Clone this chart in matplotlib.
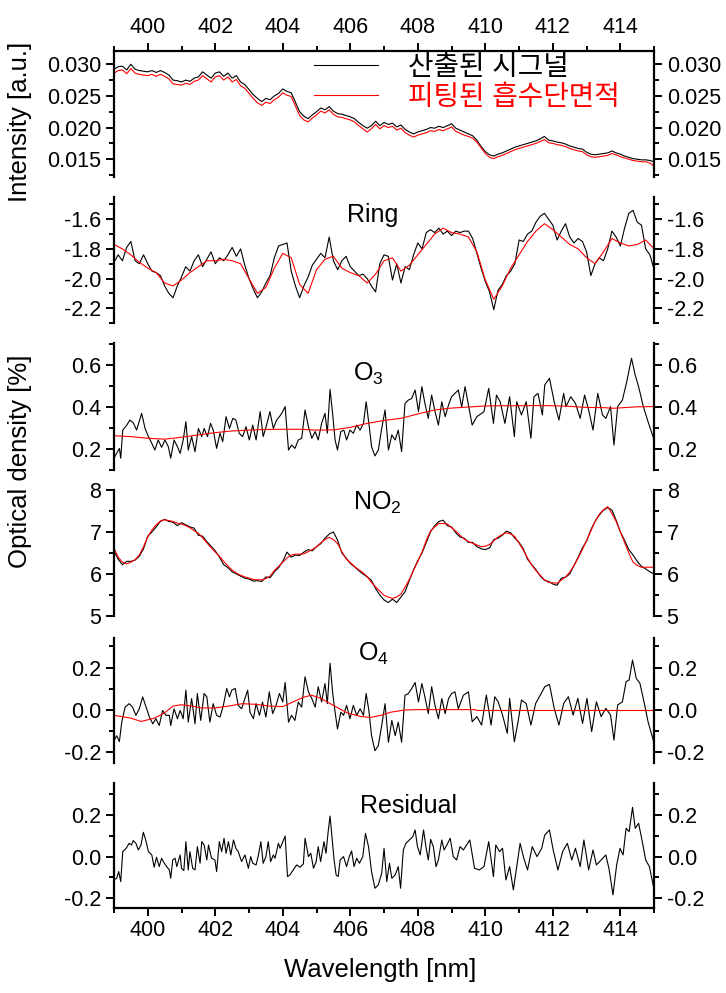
import numpy as np
import matplotlib
matplotlib.use("Agg")
import matplotlib.pyplot as plt
from matplotlib.ticker import MultipleLocator, FormatStrFormatter

plt.rcParams['font.family'] = ['Liberation Sans', 'Noto Sans CJK KR', 'DejaVu Sans']
plt.rcParams['mathtext.fontset'] = 'custom'
plt.rcParams['mathtext.rm'] = 'Liberation Sans'

# wavelength grid used for the densely sampled series (0.125 nm steps)
wl = np.linspace(399, 415, 129)

# top panel: measured (black) and fitted (red) intensity
int_meas = [0.0292,0.0296,0.0297,0.0291,0.0300,0.0292,0.0290,0.0289,0.0288,0.0290,
            0.0287,0.0290,0.0287,0.0283,0.0275,0.0274,0.0272,0.0275,0.0273,0.0278,
            0.0280,0.0288,0.0283,0.0278,0.0286,0.0288,0.0281,0.0286,0.0278,0.0282,
            0.0272,0.0268,0.0260,0.0252,0.0246,0.0241,0.0246,0.0244,0.0250,0.0254,
            0.0261,0.0257,0.0255,0.0240,0.0225,0.0218,0.0214,0.0220,0.0225,0.0231,
            0.0228,0.0233,0.0226,0.0222,0.0221,0.0219,0.0217,0.0214,0.0208,0.0203,
            0.0199,0.0203,0.0210,0.0203,0.0208,0.0205,0.0207,0.0201,0.0204,0.0197,
            0.0193,0.0190,0.0193,0.0195,0.0197,0.0200,0.0199,0.0202,0.0200,0.0203,
            0.0206,0.0199,0.0196,0.0193,0.0190,0.0187,0.0180,0.0170,0.0162,0.0157,
            0.0155,0.0158,0.0160,0.0163,0.0166,0.0169,0.0171,0.0173,0.0175,0.0177,
            0.0179,0.0182,0.0186,0.0180,0.0179,0.0177,0.0176,0.0174,0.0171,0.0169,
            0.0167,0.0166,0.0161,0.0158,0.0157,0.0158,0.0159,0.0160,0.0163,0.0160,
            0.0158,0.0155,0.0153,0.0151,0.0150,0.0149,0.0149,0.0148,0.0146]
int_fit = [0.0286,0.0290,0.0291,0.0285,0.0293,0.0286,0.0284,0.0283,0.0282,0.0284,
           0.0281,0.0284,0.0281,0.0277,0.0269,0.0268,0.0267,0.0270,0.0268,0.0273,
           0.0275,0.0282,0.0277,0.0272,0.0280,0.0282,0.0275,0.0280,0.0272,0.0276,
           0.0266,0.0262,0.0254,0.0246,0.0239,0.0235,0.0240,0.0238,0.0244,0.0248,
           0.0255,0.0251,0.0249,0.0234,0.0219,0.0212,0.0209,0.0215,0.0220,0.0226,
           0.0223,0.0228,0.0221,0.0217,0.0216,0.0214,0.0212,0.0209,0.0203,0.0198,
           0.0193,0.0198,0.0205,0.0198,0.0203,0.0200,0.0202,0.0196,0.0199,0.0192,
           0.0188,0.0185,0.0188,0.0190,0.0192,0.0195,0.0194,0.0197,0.0195,0.0198,
           0.0201,0.0194,0.0191,0.0188,0.0186,0.0183,0.0177,0.0168,0.0159,0.0153,
           0.0151,0.0154,0.0156,0.0159,0.0162,0.0165,0.0167,0.0169,0.0171,0.0173,
           0.0175,0.0178,0.0181,0.0176,0.0175,0.0173,0.0172,0.0170,0.0167,0.0165,
           0.0163,0.0162,0.0157,0.0154,0.0153,0.0154,0.0155,0.0156,0.0159,0.0157,
           0.0154,0.0152,0.0150,0.0148,0.0147,0.0146,0.0146,0.0144,0.0139]

# Ring
ring_meas = [-1.89,-1.84,-1.88,-1.79,-1.75,-1.88,-1.90,-1.84,-1.90,-1.95,
             -1.96,-1.98,-2.05,-2.10,-2.13,-2.05,-1.99,-1.92,-1.95,-1.88,
             -1.84,-1.92,-1.87,-1.82,-1.90,-1.86,-1.88,-1.84,-1.79,-1.85,
             -1.80,-1.91,-2.00,-2.07,-2.13,-2.09,-2.03,-1.98,-1.86,-1.78,
             -1.77,-1.76,-1.95,-2.05,-2.13,-2.05,-1.99,-1.91,-1.87,-1.83,
             -1.86,-1.72,-1.88,-1.94,-1.88,-1.85,-1.92,-1.95,-1.98,-1.97,
             -2.00,-2.05,-2.09,-1.90,-1.84,-1.85,-2.01,-1.90,-2.03,-1.92,
             -1.94,-1.84,-1.76,-1.80,-1.69,-1.67,-1.69,-1.66,-1.70,-1.68,
             -1.71,-1.68,-1.69,-1.68,-1.68,-1.73,-1.83,-1.93,-2.02,-2.09,
             -2.21,-2.08,-2.04,-1.98,-1.95,-1.90,-1.74,-1.75,-1.70,-1.68,
             -1.62,-1.58,-1.56,-1.60,-1.64,-1.74,-1.68,-1.63,-1.72,-1.76,
             -1.73,-1.75,-1.82,-1.98,-1.90,-1.86,-1.88,-1.80,-1.68,-1.72,
             -1.78,-1.66,-1.56,-1.54,-1.62,-1.64,-1.80,-1.84,-1.94]
ring_fit_wl = np.linspace(399, 415, 65)
ring_fit = [-1.77,-1.80,-1.84,-1.89,-1.93,-1.96,-2.03,-2.05,-2.01,-1.96,
            -1.92,-1.88,-1.88,-1.87,-1.88,-1.90,-2.00,-2.10,-2.06,-1.93,
            -1.83,-1.86,-2.04,-2.10,-1.94,-1.87,-1.85,-1.93,-1.96,-1.98,
            -2.03,-1.97,-1.88,-1.86,-1.95,-1.91,-1.84,-1.77,-1.70,-1.66,
            -1.69,-1.70,-1.72,-1.82,-2.01,-2.14,-2.05,-1.93,-1.84,-1.75,
            -1.68,-1.63,-1.67,-1.72,-1.77,-1.80,-1.86,-1.90,-1.82,-1.73,
            -1.76,-1.78,-1.77,-1.74,-1.80]

# O3 (wavelength, value)
o3_points = [(399.00,0.156),(399.08,0.179),(399.16,0.203),(399.20,0.156),(399.26,0.290),
             (399.38,0.314),(399.47,0.338),(399.57,0.325),(399.67,0.290),(399.82,0.370),
             (399.92,0.298),(400.02,0.259),(400.12,0.227),(400.21,0.195),(400.31,0.243),
             (400.41,0.208),(400.51,0.243),(400.61,0.211),(400.68,0.156),(400.78,0.243),
             (400.88,0.211),(400.96,0.179),(401.05,0.243),(401.13,0.330),(401.20,0.195),
             (401.30,0.259),(401.40,0.187),(401.50,0.298),(401.60,0.259),(401.67,0.298),
             (401.77,0.259),(401.86,0.322),(401.94,0.290),(402.04,0.203),(402.14,0.275),
             (402.22,0.235),(402.32,0.354),(402.42,0.298),(402.52,0.346),(402.61,0.338),
             (402.71,0.275),(402.81,0.259),(402.91,0.306),(403.01,0.243),(403.11,0.314),
             (403.21,0.243),(403.33,0.378),(403.42,0.259),(403.52,0.314),(403.62,0.378),
             (403.72,0.298),(403.82,0.338),(403.90,0.354),(403.97,0.370),(404.07,0.402),
             (404.17,0.195),(404.26,0.219),(404.36,0.203),(404.46,0.243),(404.56,0.251),
             (404.66,0.386),(404.76,0.306),(404.86,0.251),(404.96,0.283),(405.05,0.243),
             (405.15,0.322),(405.25,0.370),(405.32,0.275),(405.40,0.484),(405.48,0.362),
             (405.55,0.243),(405.62,0.195),(405.72,0.283),(405.81,0.290),(405.89,0.243),
             (405.99,0.290),(406.09,0.275),(406.19,0.314),(406.29,0.290),(406.39,0.322),
             (406.47,0.425),(406.55,0.322),(406.63,0.211),(406.73,0.167),(406.83,0.195),
             (406.93,0.298),(407.03,0.386),(407.13,0.195),(407.23,0.267),(407.33,0.243),
             (407.42,0.290),(407.52,0.187),(407.62,0.417),(407.72,0.433),(407.82,0.441),
             (407.92,0.481),(408.02,0.378),(408.12,0.497),(408.21,0.417),(408.31,0.346),
             (408.41,0.457),(408.51,0.378),(408.61,0.314),(408.71,0.425),(408.81,0.354),
             (408.91,0.410),(409.00,0.449),(409.10,0.465),(409.20,0.481),(409.30,0.400),
             (409.40,0.497),(409.61,0.314),(409.75,0.354),(409.96,0.378),(410.10,0.489),
             (410.24,0.322),(410.33,0.457),(410.44,0.425),(410.58,0.322),(410.72,0.449),
             (410.86,0.259),(410.93,0.425),(411.07,0.362),(411.21,0.425),(411.35,0.251),
             (411.44,0.449),(411.56,0.465),(411.69,0.362),(411.76,0.505),(411.90,0.537),
             (412.04,0.425),(412.18,0.338),(412.32,0.465),(412.39,0.402),(412.53,0.449),
             (412.67,0.417),(412.81,0.346),(412.94,0.457),(413.06,0.386),(413.19,0.290),
             (413.33,0.465),(413.47,0.362),(413.57,0.346),(413.71,0.402),(413.81,0.219),
             (413.92,0.402),(414.06,0.433),(414.19,0.521),(414.33,0.632),(414.44,0.552),
             (414.54,0.497),(414.68,0.402),(414.82,0.330),(415.00,0.243)]
o3_fit_wl = [399.0,399.5,400.0,400.5,401.0,401.5,402.0,402.5,403.0,403.5,404.0,404.5,
             405.0,405.5,406.0,406.5,407.0,407.5,408.0,408.5,409.0,409.5,410.0,410.5,
             411.0,411.5,412.0,412.5,413.0,413.5,413.8,414.0,414.5,415.0]
o3_fit = [0.263,0.259,0.251,0.247,0.256,0.267,0.278,0.286,0.290,0.293,0.294,0.294,
          0.290,0.291,0.303,0.322,0.336,0.346,0.367,0.386,0.395,0.400,0.405,0.406,
          0.406,0.407,0.406,0.403,0.398,0.397,0.394,0.396,0.401,0.402]

# NO2
no2_meas = [6.55,6.35,6.22,6.30,6.30,6.33,6.42,6.60,6.90,7.00,
            7.12,7.25,7.30,7.25,7.23,7.15,7.22,7.17,7.12,7.09,
            6.92,6.90,6.77,6.66,6.55,6.40,6.22,6.15,6.05,6.00,
            5.95,5.90,5.88,5.83,5.84,5.82,5.93,5.91,6.05,6.15,
            6.30,6.52,6.40,6.45,6.44,6.52,6.58,6.55,6.65,6.72,
            6.85,6.95,7.00,6.80,6.50,6.38,6.25,6.17,6.08,6.00,
            5.93,5.85,5.65,5.50,5.38,5.32,5.40,5.32,5.45,5.58,
            5.85,6.10,6.32,6.50,6.75,7.00,7.15,7.25,7.28,7.15,
            7.12,6.98,6.88,6.85,6.75,6.75,6.65,6.60,6.58,6.62,
            6.82,6.85,6.92,7.02,6.98,6.85,6.75,6.60,6.35,6.22,
            6.10,5.95,5.85,5.82,5.76,5.73,5.90,5.92,6.00,6.20,
            6.40,6.62,6.78,7.05,7.25,7.40,7.52,7.58,7.52,7.28,
            7.00,6.80,6.58,6.45,6.30,6.18,6.12,6.05,6.00]
no2_fit = [6.61,6.40,6.28,6.24,6.28,6.34,6.45,6.65,6.88,7.05,
           7.17,7.26,7.29,7.27,7.25,7.21,7.19,7.15,7.10,7.03,
           6.97,6.86,6.74,6.63,6.52,6.42,6.30,6.19,6.09,6.02,
           5.97,5.93,5.90,5.87,5.86,5.86,5.89,5.95,6.08,6.18,
           6.28,6.38,6.45,6.47,6.47,6.48,6.53,6.58,6.65,6.74,
           6.82,6.87,6.82,6.72,6.53,6.36,6.27,6.18,6.10,6.03,
           5.94,5.80,5.69,5.59,5.49,5.45,5.42,5.45,5.52,5.69,
           5.87,6.09,6.30,6.52,6.80,7.02,7.12,7.20,7.20,7.19,
           7.10,7.02,6.92,6.83,6.77,6.73,6.69,6.65,6.66,6.70,
           6.79,6.88,6.94,6.98,6.95,6.89,6.73,6.57,6.38,6.21,
           6.08,5.97,5.86,5.80,5.79,5.78,5.85,5.93,6.04,6.20,
           6.38,6.58,6.80,7.02,7.25,7.42,7.53,7.60,7.44,7.25,
           7.00,6.75,6.50,6.28,6.20,6.16,6.16,6.16,6.16]

# O4
o4_points = [(399.00,-0.144),(399.08,-0.121),(399.16,-0.149),(399.23,-0.057),(399.33,0.014),
             (399.45,0.030),(399.55,0.014),(399.65,-0.025),(399.75,0.006),(399.85,0.062),
             (399.95,0.014),(400.05,-0.033),(400.15,-0.065),(400.24,-0.041),(400.34,-0.073),
             (400.44,-0.002),(400.54,-0.025),(400.64,-0.025),(400.68,-0.073),(400.78,0.006),
             (400.88,-0.041),(400.96,-0.002),(401.05,-0.041),(401.13,0.094),(401.20,-0.057),
             (401.30,0.054),(401.40,-0.065),(401.47,0.078),(401.57,-0.049),(401.67,0.078),
             (401.75,0.062),(401.84,-0.057),(401.94,0.030),(402.04,-0.025),(402.14,-0.033),
             (402.24,0.022),(402.34,0.102),(402.42,0.062),(402.49,0.094),(402.59,0.102),
             (402.68,0.022),(402.78,0.006),(402.88,0.054),(402.96,0.094),(403.03,-0.010),
             (403.13,-0.041),(403.21,0.030),(403.31,-0.025),(403.40,0.038),(403.50,-0.033),
             (403.60,0.086),(403.70,-0.017),(403.80,0.022),(403.90,0.078),(404.00,0.038),
             (404.07,0.130),(404.17,-0.057),(404.26,-0.025),(404.36,-0.049),(404.46,0.038),
             (404.56,0.014),(404.66,0.157),(404.76,0.086),(404.86,0.054),(404.96,0.014),
             (405.05,0.110),(405.15,0.038),(405.25,0.125),(405.32,0.030),(405.40,0.221),
             (405.48,0.078),(405.55,-0.010),(405.62,-0.089),(405.72,-0.010),(405.80,-0.025),
             (405.89,0.022),(405.99,-0.041),(406.09,0.022),(406.19,-0.025),(406.29,0.006),
             (406.39,-0.025),(406.47,0.078),(406.55,-0.002),(406.63,-0.121),(406.73,-0.192),
             (406.83,-0.168),(406.93,-0.073),(407.03,0.030),(407.13,-0.152),(407.23,-0.049),
             (407.33,-0.121),(407.42,-0.057),(407.52,-0.152),(407.62,0.070),(407.72,0.078),
             (407.82,0.102),(407.92,0.130),(408.02,0.038),(408.12,0.125),(408.21,0.062),
             (408.31,-0.017),(408.41,0.110),(408.51,0.022),(408.61,-0.041),(408.71,0.054),
             (408.81,-0.017),(408.91,0.054),(409.00,0.078),(409.10,0.086),(409.20,0.006),
             (409.35,0.070),(409.50,0.086),(409.61,-0.055),(409.75,-0.031),(409.89,-0.071),
             (410.03,0.071),(410.17,-0.071),(410.28,0.063),(410.38,0.039),(410.51,-0.024),
             (410.65,-0.110),(410.72,0.055),(410.86,-0.150),(410.97,-0.055),(411.07,0.047),
             (411.21,0.031),(411.35,-0.071),(411.49,0.031),(411.63,0.071),(411.76,0.110),
             (411.90,0.121),(412.04,0.008),(412.18,-0.071),(412.32,0.031),(412.46,0.063),
             (412.60,-0.024),(412.74,0.055),(412.88,-0.063),(413.01,0.055),(413.15,-0.102),
             (413.29,0.039),(413.43,-0.031),(413.57,0.008),(413.71,-0.024),(413.81,-0.142),
             (413.92,0.024),(414.06,0.039),(414.17,0.134),(414.26,0.142),(414.36,0.236),
             (414.47,0.150),(414.58,0.126),(414.72,0.024),(414.82,-0.055),(415.00,-0.157)]
o4_fit_wl = [399.0,399.5,399.8,400.2,400.5,400.75,401.0,401.3,401.6,402.0,
             402.4,402.8,403.2,403.6,404.0,404.3,404.6,404.85,405.1,405.5,
             405.9,406.3,406.6,406.9,407.2,407.6,408.0,409.0,409.7,409.75,
             411.0,412.0,413.0,414.0,415.0]
o4_fit = [-0.025,-0.038,-0.054,-0.038,-0.013,0.019,0.025,0.019,0.010,0.010,
          0.019,0.030,0.027,0.019,0.016,0.038,0.060,0.070,0.057,0.022,
          -0.013,-0.030,-0.035,-0.025,-0.010,0.000,0.002,0.002,0.002,-0.002,
          -0.002,-0.002,-0.002,-0.002,-0.002]

# Residual
res_points = [(399.00,-0.112),(399.08,-0.104),(399.14,-0.072),(399.20,-0.120),(399.26,0.024),
              (399.36,0.040),(399.45,0.064),(399.52,0.056),(399.57,0.077),(399.65,0.064),
              (399.72,0.032),(399.80,0.056),(399.87,0.117),(399.94,0.080),(400.02,0.024),
              (400.12,0.008),(400.19,-0.051),(400.26,-0.003),(400.34,-0.048),(400.41,-0.008),
              (400.48,-0.029),(400.56,-0.048),(400.64,-0.064),(400.68,-0.104),(400.74,-0.016),
              (400.81,-0.008),(400.86,-0.048),(400.96,0.008),(401.00,-0.056),(401.07,-0.067),
              (401.13,0.072),(401.20,-0.064),(401.25,0.024),(401.33,-0.056),(401.40,-0.064),
              (401.47,0.048),(401.55,-0.032),(401.60,0.072),(401.67,0.056),(401.75,-0.016),
              (401.80,0.056),(401.89,-0.008),(401.99,-0.016),(402.04,-0.072),(402.12,0.072),
              (402.19,0.024),(402.26,0.088),(402.32,0.016),(402.39,0.072),(402.46,0.008),
              (402.54,0.080),(402.61,0.040),(402.68,0.024),(402.78,-0.024),(402.88,0.008),
              (402.98,-0.056),(403.05,0.000),(403.11,-0.032),(403.21,-0.040),(403.28,0.008),
              (403.35,0.072),(403.42,-0.032),(403.50,0.000),(403.57,0.072),(403.64,-0.024),
              (403.72,0.008),(403.77,-0.008),(403.87,0.064),(403.92,0.040),(404.00,0.072),
              (404.07,0.099),(404.14,-0.096),(404.21,-0.088),(404.31,-0.064),(404.41,-0.040),
              (404.51,-0.051),(404.61,-0.035),(404.66,0.088),(404.76,0.000),(404.83,0.016),
              (404.91,-0.056),(404.99,-0.024),(405.05,0.048),(405.12,-0.024),(405.22,0.072),
              (405.28,0.016),(405.35,0.128),(405.40,0.195),(405.47,0.072),(405.52,-0.016),
              (405.58,-0.088),(405.64,-0.096),(405.70,-0.016),(405.80,0.000),(405.89,-0.048),
              (405.97,0.000),(406.04,0.027),(406.11,-0.048),(406.19,-0.008),(406.27,-0.032),
              (406.37,0.000),(406.45,0.112),(406.54,0.048),(406.63,-0.072),(406.73,-0.152),
              (406.83,-0.136),(406.93,-0.080),(407.00,0.040),(407.08,-0.120),(407.16,-0.032),
              (407.23,-0.104),(407.33,-0.088),(407.42,-0.048),(407.49,-0.152),(407.57,0.032),
              (407.65,0.064),(407.75,0.080),(407.85,0.096),(407.92,0.128),(407.99,0.048),
              (408.07,0.008),(408.17,0.128),(408.24,0.048),(408.31,-0.016),(408.38,0.083),
              (408.46,0.048),(408.54,-0.048),(408.61,-0.016),(408.71,0.080),(408.78,0.032),
              (408.86,0.056),(408.96,0.088),(409.05,0.000),(409.15,-0.016),(409.25,0.048),
              (409.35,0.032),(409.54,0.080),(409.68,-0.056),(409.82,-0.064),(409.96,-0.048),
              (410.10,0.072),(410.24,-0.096),(410.31,0.056),(410.42,0.024),(410.51,0.040),
              (410.61,-0.112),(410.72,-0.048),(410.83,-0.160),(410.93,-0.048),(411.03,0.064),
              (411.14,-0.008),(411.25,-0.064),(411.39,0.048),(411.53,0.000),(411.67,0.040),
              (411.76,0.104),(411.90,0.128),(412.01,0.032),(412.15,-0.064),(412.29,0.024),
              (412.43,0.064),(412.56,-0.016),(412.67,0.040),(412.81,-0.048),(412.92,0.080),
              (413.06,-0.064),(413.19,0.032),(413.29,-0.040),(413.43,-0.016),(413.57,0.008),
              (413.67,-0.064),(413.78,-0.184),(413.89,-0.040),(413.99,0.040),(414.08,0.008),
              (414.17,0.136),(414.26,0.120),(414.36,0.237),(414.44,0.136),(414.54,0.160),
              (414.64,0.080),(414.75,-0.016),(414.86,-0.048),(415.00,-0.160)]

o3_wl, o3_meas = np.array(o3_points).T
o4_wl, o4_meas = np.array(o4_points).T
res_wl, res_meas = np.array(res_points).T

fig = plt.figure(figsize=(7.26, 9.93), dpi=100)

# axes rectangles (left, bottom, width, height) in figure fraction
rects = [[0.157, 0.8218, 0.744, 0.1269],
         [0.157, 0.6747, 0.744, 0.1269],
         [0.157, 0.5267, 0.744, 0.1279],
         [0.157, 0.3797, 0.744, 0.1269],
         [0.157, 0.2316, 0.744, 0.1259],
         [0.157, 0.0856, 0.744, 0.1259]]
axes = [fig.add_axes(r) for r in rects]
ax1, ax2, ax3, ax4, ax5, ax6 = axes

lw = 0.8
ax1.plot(wl, int_meas, color='black', lw=lw, label='산출된 시그널')
ax1.plot(wl, int_fit, color='red', lw=lw, label='피팅된 흡수단면적')
ax2.plot(wl, ring_meas, color='black', lw=lw)
ax2.plot(ring_fit_wl, ring_fit, color='red', lw=lw)
ax3.plot(o3_wl, o3_meas, color='black', lw=lw)
ax3.plot(o3_fit_wl, o3_fit, color='red', lw=lw)
ax4.plot(wl, no2_meas, color='black', lw=lw)
ax4.plot(wl, no2_fit, color='red', lw=lw)
ax5.plot(o4_wl, o4_meas, color='black', lw=lw)
ax5.plot(o4_fit_wl, o4_fit, color='red', lw=lw)
ax6.plot(res_wl, res_meas, color='black', lw=lw)

# y scales: (limits, major ticks, minor step, format)
yset = [((0.0122, 0.0321), [0.015, 0.020, 0.025, 0.030], 0.0025, '%.3f'),
        ((-2.3, -1.45), [-2.2, -2.0, -1.8, -1.6], 0.1, '%.1f'),
        ((0.1, 0.705), [0.2, 0.4, 0.6], 0.1, '%.1f'),
        ((5, 8), [5, 6, 7, 8], 0.5, '%d'),
        ((-0.25, 0.34), [-0.2, 0.0, 0.2], 0.1, '%.1f'),
        ((-0.247, 0.354), [-0.2, 0.0, 0.2], 0.1, '%.1f')]

for ax, (lim, ticks, mstep, fmt) in zip(axes, yset):
    ax.set_xlim(399, 415)
    ax.set_ylim(*lim)
    ax.set_yticks(ticks)
    ax.yaxis.set_minor_locator(MultipleLocator(mstep))
    ax.yaxis.set_major_formatter(FormatStrFormatter(fmt))
    ax.xaxis.set_major_locator(MultipleLocator(2))
    ax.xaxis.set_minor_locator(MultipleLocator(1))
    for s in ['left', 'right', 'top', 'bottom']:
        ax.spines[s].set_linewidth(1.6)
    ax.spines['top'].set_visible(False)
    ax.spines['bottom'].set_visible(False)
    ax.tick_params(axis='y', which='both', left=True, right=True,
                   labelleft=True, labelright=True, direction='out',
                   labelsize=15.5, width=1.4, pad=3)
    ax.tick_params(axis='y', which='major', length=6)
    ax.tick_params(axis='y', which='minor', length=3.5)
    ax.tick_params(axis='x', which='both', bottom=False, top=False,
                   labelbottom=False, labeltop=False, direction='out',
                   labelsize=15.5, width=1.4, pad=3)
    ax.tick_params(axis='x', which='major', length=6)
    ax.tick_params(axis='x', which='minor', length=3.5)

ax1.spines['top'].set_visible(True)
ax1.tick_params(axis='x', which='both', top=True, labeltop=True)
ax6.spines['bottom'].set_visible(True)
ax6.tick_params(axis='x', which='both', bottom=True, labelbottom=True)

# panel names
ax2.text(405.9, 0.857, 'Ring', transform=ax2.get_xaxis_transform(),
         fontsize=18, ha='left', va='center')
ax3.text(406.08, 0.756, r'O$_\mathregular{3}$', transform=ax3.get_xaxis_transform(),
         fontsize=18, ha='left', va='center')
ax4.text(406.08, 0.897, r'NO$_\mathregular{2}$', transform=ax4.get_xaxis_transform(),
         fontsize=18, ha='left', va='center')
ax5.text(406.23, 0.872, r'O$_\mathregular{4}$', transform=ax5.get_xaxis_transform(),
         fontsize=18, ha='left', va='center')
ax6.text(406.29, 0.816, 'Residual', transform=ax6.get_xaxis_transform(),
         fontsize=18, ha='left', va='center')

ax1.legend(loc='upper left', bbox_to_anchor=(0.324, 1.17), frameon=False,
           fontsize=20, handlelength=2.3, handletextpad=1.1, labelspacing=0.16,
           labelcolor='linecolor')

fig.text(0.028, 0.877, 'Intensity [a.u.]', rotation=90, fontsize=18.5,
         ha='center', va='center')
fig.text(0.028, 0.535, 'Optical density [%]', rotation=90, fontsize=18.5,
         ha='center', va='center')
fig.text(0.524, 0.023, 'Wavelength [nm]', fontsize=18.5, ha='center', va='center')

fig.savefig('out.png', dpi=100)
